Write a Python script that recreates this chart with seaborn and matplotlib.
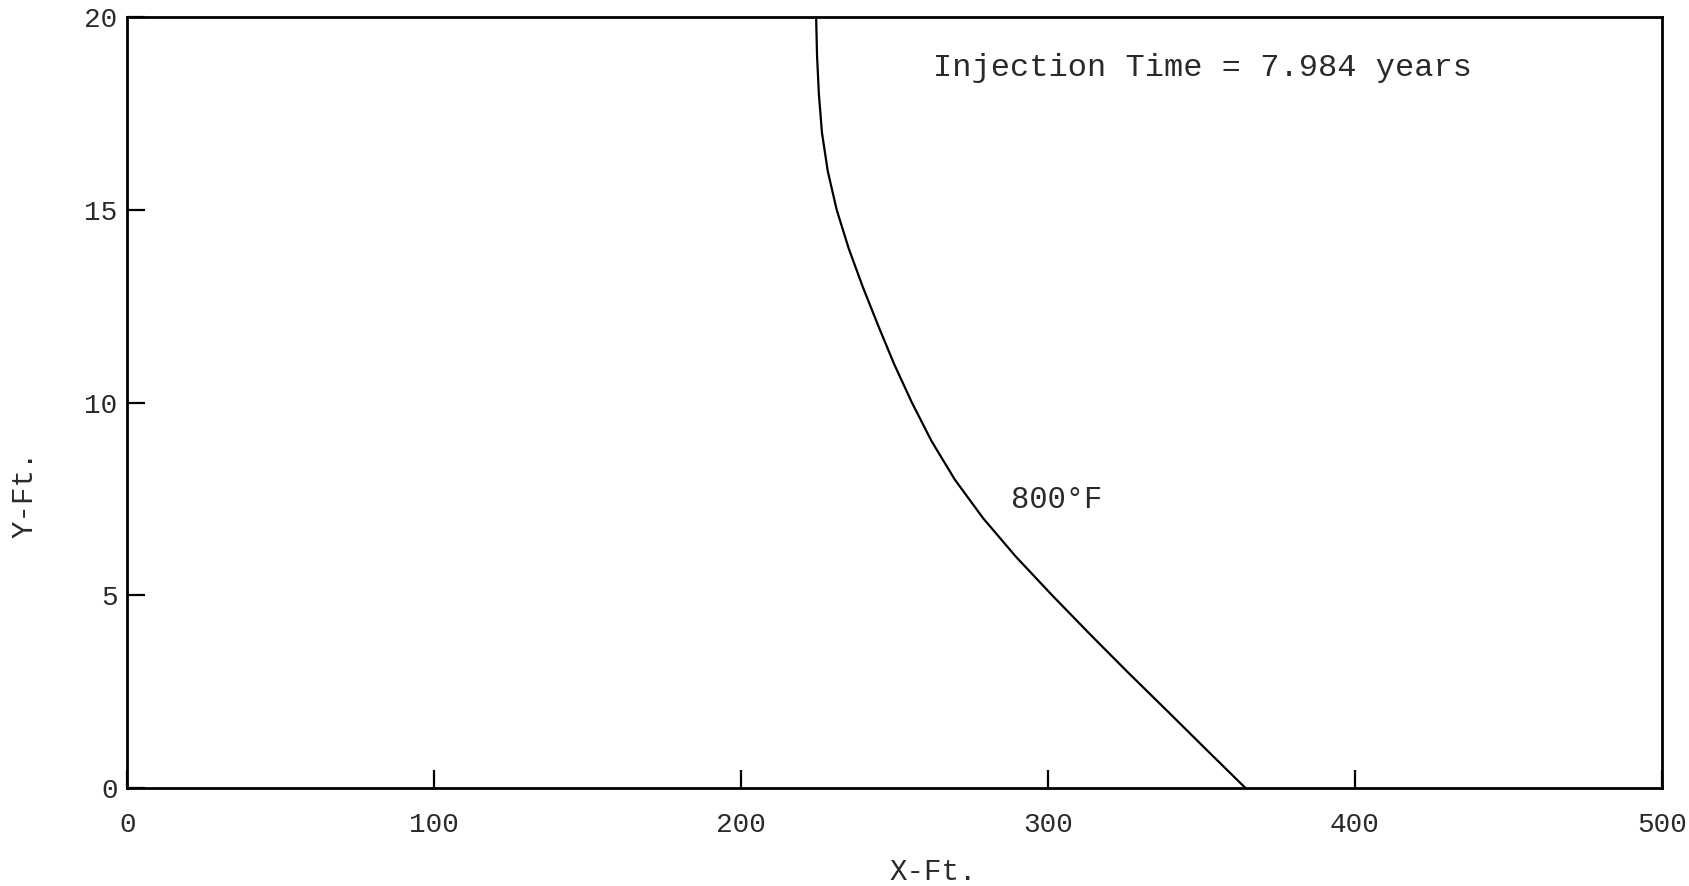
import matplotlib
matplotlib.use("Agg")
import matplotlib.pyplot as plt
import seaborn as sns
import pandas as pd

# Data (800°F front), one reading per foot of depth
y_ft = [0, 1, 2, 3, 4, 5, 6, 7, 8, 9, 10, 11, 12, 13, 14, 15, 16, 17, 18, 19, 20]
x_ft = [364.3, 351.5, 338.8, 326.0, 313.5, 301.3, 289.5, 278.8, 269.6, 262.0,
        255.6, 249.8, 244.6, 239.6, 235.0, 231.1, 228.2, 226.3, 225.3, 224.7, 224.4]

x_ticks = [0, 100, 200, 300, 400, 500]
x_tick_labels = ["0", "100", "200", "300", "400", "500"]
y_ticks = [0, 5, 10, 15, 20]
y_tick_labels = ["0", "5", "10", "15", "20"]

title_text = "Injection Time = 7.984 years"
curve_label = "800°F"

sns.set_theme(style="white")
plt.rcParams["font.family"] = ["Liberation Mono", "DejaVu Sans Mono"]

fig = plt.figure(figsize=(16.9, 8.86), dpi=100)
ax = fig.add_axes([0.0754, 0.1106, 0.9834 - 0.0754, 0.9808 - 0.1106])

df = pd.DataFrame({"X": x_ft, "Y": y_ft})
sns.lineplot(data=df, x="X", y="Y", sort=False, estimator=None, color="black",
             linewidth=1.6, ax=ax)

ax.set_xlim(0, 500)
ax.set_ylim(0, 20)
ax.set_xticks(x_ticks)
ax.set_xticklabels(x_tick_labels)
ax.set_yticks(y_ticks)
ax.set_yticklabels(y_tick_labels)

txt_color = "#2a2a2a"
ax.tick_params(axis="both", direction="in", length=13, width=1.6, colors="black",
               labelsize=20, labelcolor=txt_color, bottom=True, left=True)
ax.tick_params(axis="x", pad=17)
ax.tick_params(axis="y", pad=7)

for s in ax.spines.values():
    s.set_visible(True)
    s.set_color("black")
    s.set_linewidth(2.0)

ax.set_xlabel("X-Ft.", fontsize=21, color=txt_color, ha="center", va="center")
ax.xaxis.set_label_coords(0.525, -0.109)
ax.set_ylabel("Y-Ft.", fontsize=21, color=txt_color, ha="center", va="center")
ax.yaxis.set_label_coords(-0.0668, 0.381)

ax.text(262.5, 18.68, title_text, fontsize=23, color=txt_color, ha="left", va="center")
ax.text(287.9, 7.47, curve_label, fontsize=22, color=txt_color, ha="left", va="center")

fig.savefig("out.png", dpi=100, facecolor="white")
